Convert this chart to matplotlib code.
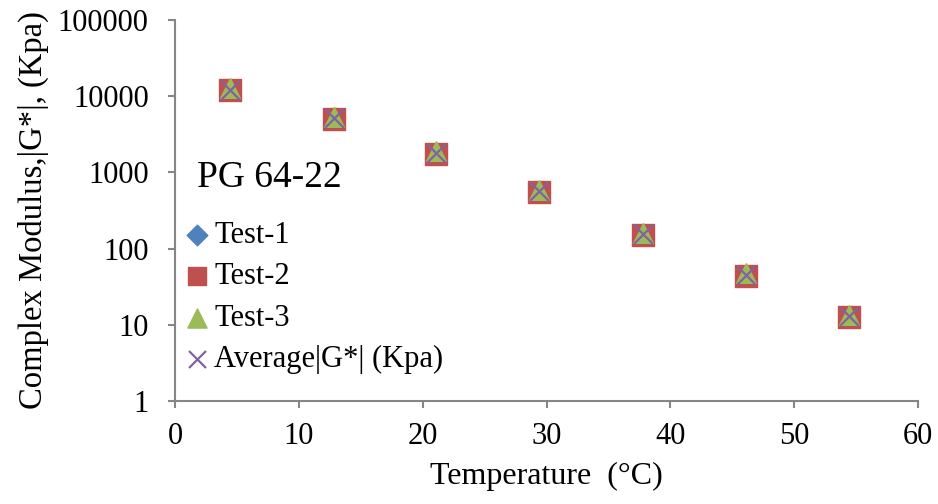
import matplotlib.pyplot as plt

plt.rcParams['font.family'] = ['Liberation Serif', 'DejaVu Serif']

temps = [4.4, 12.8, 21.1, 29.4, 37.8, 46.1, 54.4]
test1 = [12000, 5100, 1780, 555, 152, 44.5, 12.7]
test2 = [11900, 5000, 1750, 550, 150, 44, 12.5]
test3 = [12800, 5400, 1890, 595, 162, 47.5, 13.5]
average = [12200, 5250, 1800, 565, 155, 45.5, 13.2]

fig = plt.figure(figsize=(9.38, 5.04), dpi=100)
ax = fig.add_axes([0.1866, 0.2044, 0.7921, 0.7559])

ax.scatter(temps, test1, marker='D', s=90, color='#4F81BD', label='Test-1', zorder=3)
ax.scatter(temps, test2, marker='s', s=230, color='#C0504D', label='Test-2', zorder=4)
ax.scatter(temps, test3, marker='^', s=200, color='#9BBB59', label='Test-3', zorder=5)
ax.scatter(temps, average, marker='x', s=180, color='#8064A2', linewidths=1.6,
           label='Average|G*| (Kpa)', zorder=6)

ax.set_yscale('log')
ax.set_ylim(1, 100000)
ax.set_xlim(0, 60)
ax.set_xticks(range(0, 61, 10))
ax.set_yticks([1, 10, 100, 1000, 10000, 100000])
ax.set_yticklabels(['1', '10', '100', '1000', '10000', '100000'])
ax.minorticks_off()

for s in ['top', 'right']:
    ax.spines[s].set_visible(False)
for s in ['left', 'bottom']:
    ax.spines[s].set_color('#868686')
    ax.spines[s].set_linewidth(1.5)
ax.tick_params(axis='both', direction='out', length=5, width=1.5, color='#868686',
               labelsize=22)
ax.tick_params(axis='y', pad=14)
ax.tick_params(axis='x', pad=10)

ax.set_xlabel('Temperature  (°C)', fontsize=23, labelpad=8)
ax.set_ylabel('Complex Modulus,|G*|, (Kpa)', fontsize=23.5, labelpad=6)

ax.text(0.030, 0.585, 'PG 64-22', transform=ax.transAxes, fontsize=27,
        ha='left', va='center')

leg = ax.legend(loc='upper left', bbox_to_anchor=(-0.011, 0.52), frameon=False,
                fontsize=22, handlelength=0.8, handletextpad=0.15,
                labelspacing=0.4, borderaxespad=0.2, scatterpoints=1)
for h, sz in zip(leg.legend_handles, [110, 170, 190, 150]):
    h.set_sizes([sz])

fig.savefig('out.png', dpi=100)
